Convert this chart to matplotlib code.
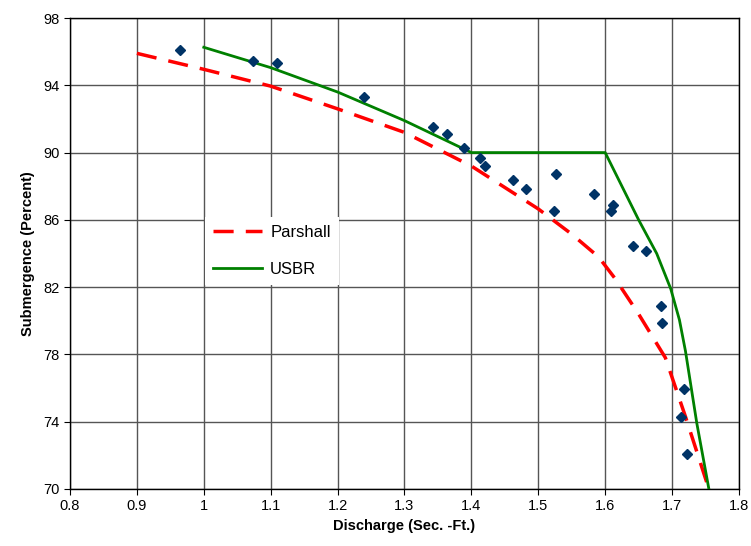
import matplotlib
matplotlib.use("Agg")
import matplotlib.pyplot as plt

plt.rcParams['font.family'] = ['Liberation Sans', 'DejaVu Sans']

obs_x = [0.965, 1.073, 1.109, 1.239, 1.342, 1.363, 1.389, 1.413, 1.420, 1.462, 1.481,
         1.526, 1.524, 1.583, 1.611, 1.608, 1.642, 1.661, 1.683, 1.685, 1.718, 1.714, 1.722]
obs_y = [96.08, 95.46, 95.30, 93.29, 91.52, 91.12, 90.30, 89.70, 89.20, 88.39, 87.83,
         88.71, 86.54, 87.55, 86.86, 86.54, 84.44, 84.13, 80.88, 79.85, 75.93, 74.28, 72.08]

parshall_x = [0.9, 1.0, 1.1, 1.2, 1.3, 1.4, 1.5, 1.55, 1.59, 1.615, 1.65, 1.69, 1.72, 1.755]
parshall_y = [95.9, 94.95, 93.95, 92.6, 91.2, 89.2, 86.65, 85.15, 83.8, 82.5, 80.4, 77.8, 74.3, 70.0]

usbr_x = [1.0, 1.1, 1.2, 1.3, 1.4, 1.6, 1.65, 1.677, 1.698, 1.711, 1.72, 1.737, 1.755]
usbr_y = [96.26, 95.05, 93.6, 91.9, 90.0, 90.0, 86.0, 84.0, 81.9, 80.05, 78.2, 73.9, 70.0]

xticks = [0.8, 0.9, 1.0, 1.1, 1.2, 1.3, 1.4, 1.5, 1.6, 1.7, 1.8]
xticklabels = ['0.8', '0.9', '1', '1.1', '1.2', '1.3', '1.4', '1.5', '1.6', '1.7', '1.8']
yticks = [70, 74, 78, 82, 86, 90, 94, 98]

fig = plt.figure(figsize=(7.51, 5.46), dpi=100)
ax = fig.add_axes([0.0932, 0.1044, 0.8908, 0.8626])

ax.grid(True, color='#555555', linewidth=1.0, zorder=0)
ax.set_axisbelow(True)

ax.plot(obs_x, obs_y, linestyle='none', marker='D', markersize=5.5,
        color='#003366', zorder=4)
ax.plot(parshall_x, parshall_y, color='#ff0000', linewidth=2.5,
        dashes=(5.8, 3.5), label='Parshall', zorder=3)
ax.plot(usbr_x, usbr_y, color='#008000', linewidth=2.0, label='USBR', zorder=3)

ax.set_xlim(0.8, 1.8)
ax.set_ylim(70, 98)
ax.set_xticks(xticks)
ax.set_xticklabels(xticklabels)
ax.set_yticks(yticks)
ax.tick_params(labelsize=10.5, direction='out', length=4, color='black')

for s in ax.spines.values():
    s.set_color('black')
    s.set_linewidth(1.0)

ax.set_xlabel('Discharge (Sec. -Ft.)', fontsize=10.5, fontweight='bold', labelpad=4)
ax.set_ylabel('Submergence (Percent)', fontsize=10.5, fontweight='bold', labelpad=6)

leg = ax.legend(loc='upper left', bbox_to_anchor=(0.202, 0.578), frameon=True,
                fancybox=False, edgecolor='none', facecolor='white', framealpha=1,
                fontsize=12, handlelength=2.9, handletextpad=0.5, labelspacing=1.3,
                borderpad=0.5, borderaxespad=0)

fig.savefig('out.png', dpi=100)
